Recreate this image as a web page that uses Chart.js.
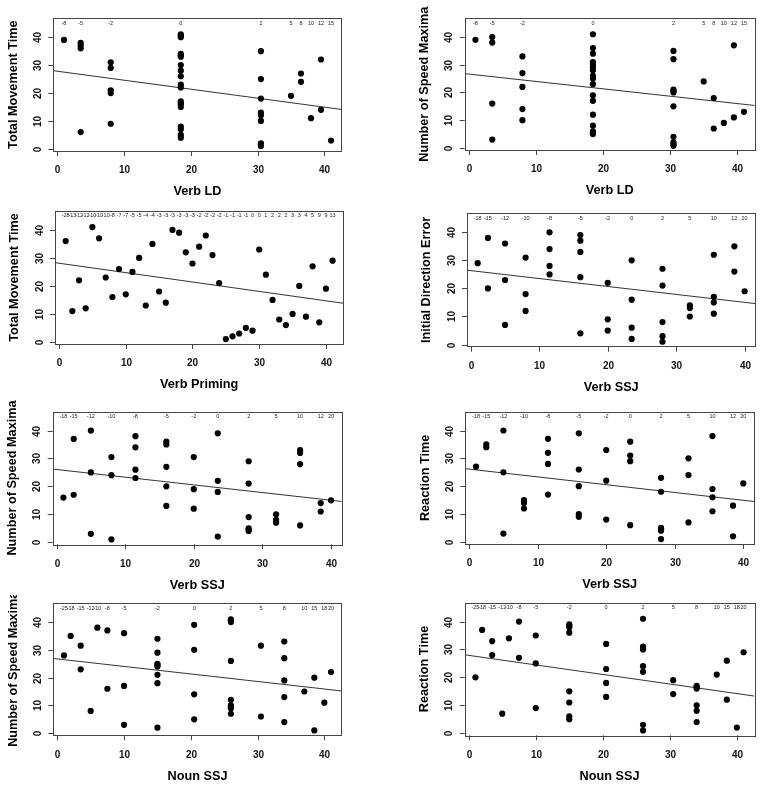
<!DOCTYPE html>
<html>
<head>
<meta charset="utf-8">
<script src="https://cdn.jsdelivr.net/npm/chart.js@4.4.1/dist/chart.umd.min.js"></script>
<style>
    body { margin: 0; background: #fff; }
    #wrap { position: relative; width: 764px; height: 790px; overflow: hidden; }
    #wrap canvas { position: absolute; }
</style>
</head>
<body>
<div id="wrap"></div>
<script>
// Позиции по оси X (ранги) и подписи сверху
const xLd = [1, 3.5, 8, 18.5, 30.5, 35, 36.5, 38, 39.5, 41];
const labelsLd = ['-8', '-5', '-2', '0', '2', '5', '8', '10', '12', '15'];

const xPriming = [1, 2, 3, 4, 5, 6, 7, 8, 9, 10, 11, 12, 13, 14, 15, 16, 17, 18, 19, 20, 21,
    22, 23, 24, 25, 26, 27, 28, 29, 30, 31, 32, 33, 34, 35, 36, 37, 38, 39, 40, 41];
const labelsPriming = ['-28', '-13', '-12', '-12', '-10', '-10', '-10', '-8', '-7', '-7', '-5', '-5',
    '-4', '-4', '-3', '-3', '-3', '-3', '-3', '-3', '-2', '-2', '-2', '-2', '-1', '-1', '-1', '-1',
    '0', '0', '1', '2', '2', '2', '3', '3', '4', '5', '9', '9', '13'];

const xVerbSsj = [1, 2.5, 5, 8, 11.5, 16, 20, 23.5, 28, 32, 35.5, 38.5, 40];
const labelsVerbSsj = ['-18', '-15', '-12', '-10', '-8', '-5', '-2', '0', '2', '5', '10', '12', '20'];

const xNounSsj = [1, 2, 3.5, 5, 6, 7.5, 10, 15, 20.5, 26, 30.5, 34, 37, 38.5, 40, 41];
const labelsNounSsj = ['-25', '-18', '-15', '-12', '-10', '-8', '-5', '-2', '0', '2', '5', '8', '10', '15', '18', '20'];

const axisTicks = [0, 10, 20, 30, 40];

// Значения Y по столбцам (для каждой позиции X)
const tmtVerbLd = [[39], [38, 37, 36, 6], [31, 29, 21, 20, 9],
    [41, 40.5, 40, 34, 33.5, 33, 30, 28, 26, 23, 22, 17, 16.5, 16, 15, 8, 7, 5, 4],
    [35, 25, 18, 13, 12, 10, 2, 1.5, 1], [19], [27, 24], [11], [32, 14], [3]];
const smVerbLd = [[39], [40, 38, 16, 3], [33, 27, 22, 14, 10],
    [41, 36, 34, 31, 30.5, 30, 29, 28, 26, 25, 23, 19, 17, 12, 8, 6, 5.5, 5],
    [35, 32, 21, 20.5, 20, 15, 4, 2, 1.3, 0.8], [24], [18, 7], [9], [37, 11], [13]];
const tmtVerbPriming = [36, 11, 22, 12, 41, 37, 23, 16, 26, 17, 25, 30, 13, 35, 18, 14, 40, 39, 32, 28,
    34, 38, 31, 21, 1, 2, 3, 5, 4, 33, 24, 15, 8, 6, 10, 20, 9, 27, 7, 19, 29];
const ideVerbSsj = [[29], [38, 20], [36, 23, 7], [31, 18, 12], [40, 34, 28, 25], [39, 37, 33, 24, 4],
    [22, 9, 5], [30, 16, 6, 2], [27, 21, 8, 3, 1], [14, 13, 10], [32, 17, 15, 11], [35, 26], [19]];
const smVerbSsj = [[16], [37, 17], [40, 25, 3], [30.5, 24, 1], [38, 34, 26, 23], [36, 35, 27, 20, 13],
    [30.5, 19, 12], [39, 22, 18, 2], [29, 21, 9, 5, 4.5, 4], [10, 8, 7], [33, 32, 28, 6], [14, 11], [15]];
const rtVerbSsj = [[27], [35, 34], [40, 25, 3], [15, 14, 12], [37, 32, 28, 17], [39, 26, 20, 10, 9],
    [33, 22, 8], [36, 31, 29, 6], [23, 18, 5, 4.5, 4, 1], [30, 24, 7], [38, 19, 16, 11], [13, 2], [21]];
const smNounSsj = [[28], [35], [31.5, 23], [8], [38], [37, 16], [36, 17, 3],
    [34, 29, 25, 24.5, 24, 21, 18, 2], [39, 30, 14, 5], [41, 40.5, 40, 26, 12, 10, 9.5, 9, 7],
    [31.5, 6], [33, 27, 19, 13, 4], [15], [20, 1], [11], [22]];
const rtNounSsj = [[20], [37], [33, 28], [7], [34], [40, 27], [35, 25, 9],
    [39, 38.5, 38, 36, 15, 11, 6, 5], [32, 23, 18, 13], [41, 31, 30.5, 30, 24, 22, 3, 1],
    [19, 14], [17, 16.5, 16, 10, 8, 4], [21], [26, 12], [2], [29]];

// Линия регрессии: значения на левом и правом краю области
const regTmtVerbLd = [28.0, 14.1];
const regSmVerbLd = [26.8, 15.3];
const regTmtPriming = [28.3, 13.8];
const regIdeVerbSsj = [26.5, 14.6];
const regSmVerbSsj = [26.2, 14.6];
const regRtVerbSsj = [26.3, 14.5];
const regSmNounSsj = [26.9, 15.2];
const regRtNounSsj = [28.1, 13.3];

const FONT = "'Liberation Sans', Arial, sans-serif";

// Описание панелей: холст и рамка графика (в пикселях страницы)
const panels = [
    { left: 0, top: 0, h: 200, box: [53.3, 18.3, 341.7, 151], xr: [-0.6, 42.6],
      xs: xLd, ys: tmtVerbLd, labels: labelsLd, reg: regTmtVerbLd, xTitle: 'Verb LD', yTitle: 'Total Movement Time' },
    { left: 382, top: 0, h: 200, box: [464.7, 18.3, 754.7, 150], xr: [-0.6, 42.6],
      xs: xLd, ys: smVerbLd, labels: labelsLd, reg: regSmVerbLd, xTitle: 'Verb LD', yTitle: 'Number of Speed Maxima' },
    { left: 0, top: 195, h: 200, box: [55, 211, 343.3, 344], xr: [-0.6, 42.6],
      xs: xPriming, ys: tmtVerbPriming, labels: labelsPriming, reg: regTmtPriming, xTitle: 'Verb Priming', yTitle: 'Total Movement Time' },
    { left: 382, top: 195, h: 200, box: [467, 213.3, 755.3, 346.7], xr: [-0.56, 41.56],
      xs: xVerbSsj, ys: ideVerbSsj, labels: labelsVerbSsj, reg: regIdeVerbSsj, xTitle: 'Verb SSJ', yTitle: 'Initial Direction Error' },
    { left: 0, top: 390, h: 200, box: [52.7, 411.7, 341.7, 544.3], xr: [-0.56, 41.56],
      xs: xVerbSsj, ys: smVerbSsj, labels: labelsVerbSsj, reg: regSmVerbSsj, xTitle: 'Verb SSJ', yTitle: 'Number of Speed Maxima' },
    { left: 382, top: 390, h: 200, box: [465.3, 411.7, 754, 544], xr: [-0.56, 41.56],
      xs: xVerbSsj, ys: rtVerbSsj, labels: labelsVerbSsj, reg: regRtVerbSsj, xTitle: 'Verb SSJ', yTitle: 'Reaction Time' },
    { left: 0, top: 595, h: 195, box: [53.3, 603.3, 341.7, 735.3], xr: [-0.6, 42.6],
      xs: xNounSsj, ys: smNounSsj, labels: labelsNounSsj, reg: regSmNounSsj, xTitle: 'Noun SSJ', yTitle: 'Number of Speed Maxima' },
    { left: 382, top: 590, h: 200, box: [464.7, 602.7, 754.3, 735.3], xr: [-0.6, 42.6],
      xs: xNounSsj, ys: rtNounSsj, labels: labelsNounSsj, reg: regRtNounSsj, xTitle: 'Noun SSJ', yTitle: 'Reaction Time' }
];

const panelInfo = {};

// Плагин: рамка, засечки, подписи осей и подписи сверху
const panelDecor = {
    id: 'panelDecor',
    afterDatasetsDraw(chart) {
        const p = panelInfo[chart.canvas.id];
        const ctx = chart.ctx;
        const a = chart.chartArea;
        const sx = chart.scales.x, sy = chart.scales.y;
        ctx.save();
        ctx.strokeStyle = '#444';
        ctx.lineWidth = 1;
        ctx.strokeRect(Math.round(a.left) + 0.5, Math.round(a.top) + 0.5,
            Math.round(a.right - a.left), Math.round(a.bottom - a.top));

        ctx.fillStyle = '#111';
        ctx.textAlign = 'center';
        ctx.textBaseline = 'middle';
        ctx.font = 'bold 10px ' + FONT;
        axisTicks.forEach(v => {
            const px = Math.round(sx.getPixelForValue(v)) + 0.5;
            ctx.beginPath();
            ctx.moveTo(px, a.bottom);
            ctx.lineTo(px, a.bottom + 5);
            ctx.stroke();
            ctx.fillText(String(v), px, a.bottom + 19.5);

            const py = Math.round(sy.getPixelForValue(v)) + 0.5;
            ctx.beginPath();
            ctx.moveTo(a.left - 5, py);
            ctx.lineTo(a.left, py);
            ctx.stroke();
            ctx.save();
            ctx.translate(a.left - 15, py);
            ctx.rotate(-Math.PI / 2);
            ctx.fillText(String(v), 0, 0);
            ctx.restore();
        });

        // подписи сверху
        ctx.font = '5.5px ' + FONT;
        ctx.fillStyle = '#222';
        const ty = sy.getPixelForValue(45);
        p.xs.forEach((x, i) => {
            ctx.fillText(p.labels[i], sx.getPixelForValue(x), ty);
        });

        // названия осей
        ctx.fillStyle = '#000';
        ctx.font = 'bold 12.7px ' + FONT;
        ctx.fillText(p.xTitle, (a.left + a.right) / 2, a.bottom + 40.7);
        ctx.save();
        ctx.translate(a.left - 40.3, (a.top + a.bottom) / 2);
        ctx.rotate(-Math.PI / 2);
        ctx.fillText(p.yTitle, 0, 0);
        ctx.restore();
        ctx.restore();
    }
};

function toPoints(xs, cols) {
    const pts = [];
    xs.forEach((x, i) => {
        [].concat(cols[i]).forEach(y => pts.push({ x: x, y: y }));
    });
    return pts;
}

function initPanel(p, n) {
    const canvas = document.createElement('canvas');
    canvas.id = 'panel' + n;
    canvas.width = 382;
    canvas.height = p.h;
    canvas.style.left = p.left + 'px';
    canvas.style.top = p.top + 'px';
    document.getElementById('wrap').appendChild(canvas);
    panelInfo[canvas.id] = p;

    new Chart(canvas, {
        data: {
            datasets: [{
                type: 'scatter',
                data: toPoints(p.xs, p.ys),
                pointRadius: 3.1,
                pointBackgroundColor: '#000',
                pointBorderWidth: 0
            }, {
                type: 'line',
                data: [{ x: p.xr[0], y: p.reg[0] }, { x: p.xr[1], y: p.reg[1] }],
                borderColor: '#333',
                borderWidth: 1,
                pointRadius: 0
            }]
        },
        options: {
            responsive: false,
            animation: false,
            devicePixelRatio: 1,
            layout: {
                padding: {
                    left: p.box[0] - p.left,
                    top: p.box[1] - p.top,
                    right: p.left + 382 - p.box[2],
                    bottom: p.top + p.h - p.box[3]
                }
            },
            plugins: {
                legend: { display: false },
                tooltip: { enabled: false }
            },
            scales: {
                x: { type: 'linear', min: p.xr[0], max: p.xr[1], display: false },
                y: { type: 'linear', min: -0.76, max: 46.76, display: false }
            }
        },
        plugins: [panelDecor]
    });
}

panels.forEach((p, i) => initPanel(p, i + 1));
</script>
</body>
</html>
